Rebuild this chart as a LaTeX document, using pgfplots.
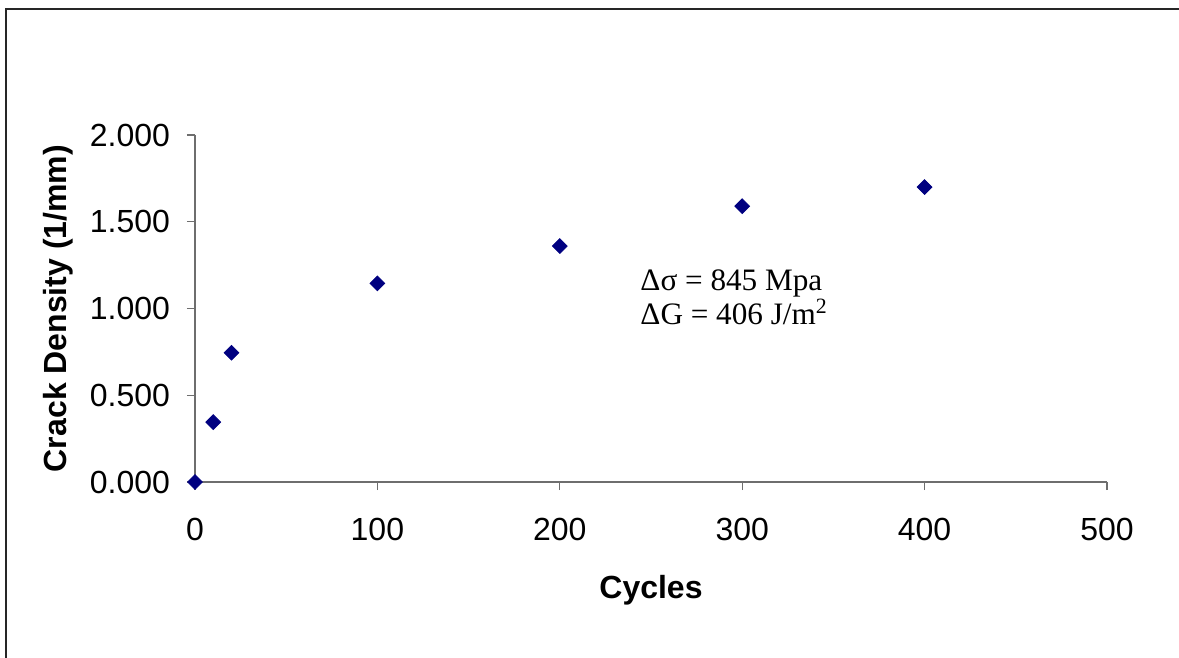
\documentclass[border=0pt]{standalone}
\usepackage{fontspec}
\setmainfont{Liberation Sans}
\newfontfamily\timesfont{Liberation Serif}
\usepackage{pgfplots}
\pgfplotsset{compat=1.18}
\definecolor{axgray}{RGB}{110,110,110}
\definecolor{navyblue}{RGB}{0,0,128}
\begin{document}
\begin{tikzpicture}
\useasboundingbox (0,0) rectangle (589.5pt,-329pt);
\draw[line width=1pt, black!85] (3pt,-4.5pt) rectangle (620pt,-360pt);
\begin{axis}[
  at={(97.5pt,-241pt)}, anchor=origin,
  scale only axis, width=456pt, height=173.5pt,
  xmin=0, xmax=500, ymin=0, ymax=2,
  axis x line=bottom, axis y line=left,
  axis line style={axgray, line width=0.6pt, -},
  xtick={0,100,...,500}, ytick={0,0.5,...,2},
  tick align=outside, major tick length=4pt,
  tick style={axgray, line width=0.6pt},
  every tick label/.append style={font=\fontsize{16}{18}\selectfont},
  /pgf/number format/assume math mode=true,
  yticklabel style={/pgf/number format/.cd, fixed, fixed zerofill, precision=3, /tikz/.cd, xshift=-5pt},
  xticklabel style={yshift=-10.5pt},
  xlabel={\textbf{Cycles}},
  ylabel={\textbf{Crack Density (1/mm)}},
  label style={font=\fontsize{16}{19}\selectfont},
  xlabel style={yshift=-10.5pt},
  ylabel style={yshift=1.5pt},
  clip=false,
]
\addplot[only marks, mark=square*, mark size=2.6pt, mark options={rotate=45, fill=navyblue, draw=navyblue}]
coordinates {(0,0) (10,0.345) (20,0.745) (100,1.145) (200,1.36) (300,1.59) (400,1.70)};
\node[anchor=north west, align=left, inner sep=0pt, font=\timesfont\fontsize{15.6}{15.5}\selectfont] at (axis cs:244,1.225) {Δσ = 845 Mpa\\ΔG = 406 J/m\textsuperscript{2}};
\end{axis}
\end{tikzpicture}
\end{document}
